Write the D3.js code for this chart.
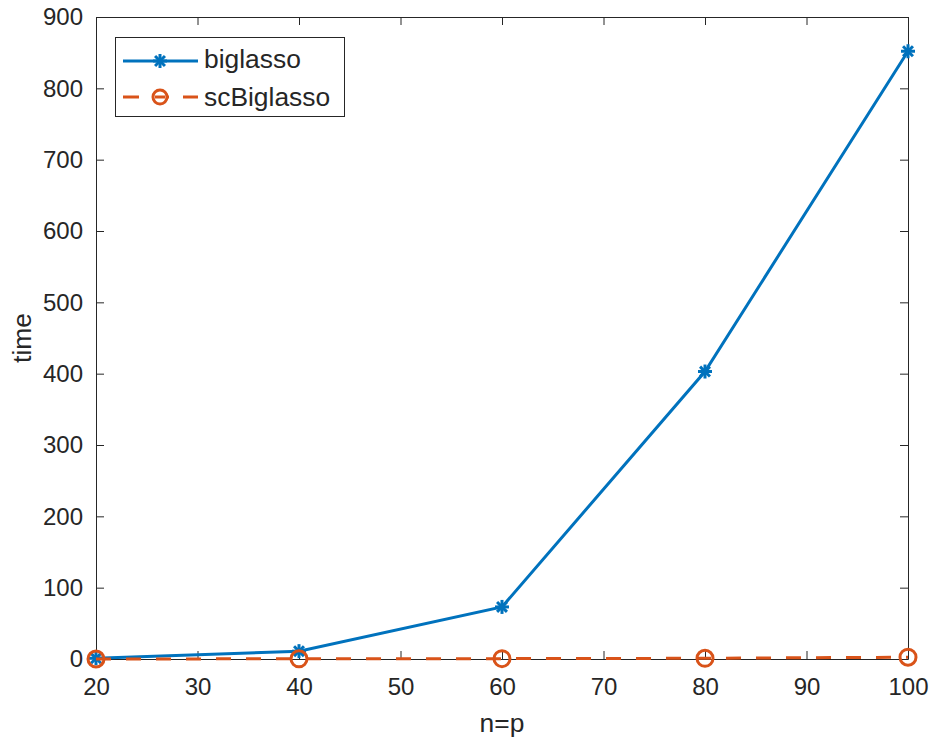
<!DOCTYPE html>
<html>
<head>
<meta charset="utf-8">
<script src="https://cdn.jsdelivr.net/npm/d3@7"></script>
<style>
  body { margin: 0; background: #fff; }
  text { font-family: "Liberation Sans", Arial, sans-serif; fill: #262626; }
</style>
</head>
<body>
<div class="canvas"></div>
<script>
// data
const sizes = [20, 40, 60, 80, 100];
const biglasso = [1, 11, 73, 403, 852];
const scBiglasso = [0, 0.3, 0.5, 1, 2.5];
const xTicks = [20, 30, 40, 50, 60, 70, 80, 90, 100];
const yTicks = [0, 100, 200, 300, 400, 500, 600, 700, 800, 900];

// dimensions
const dims = { width: 931, height: 740 };
const margin = { top: 17, right: 23, bottom: 81, left: 96 };
const w = dims.width - margin.left - margin.right;
const h = dims.height - margin.top - margin.bottom;

const blue = "#0072BD";
const orange = "#D95319";
const axisCol = "#262626";

const svg = d3.select(".canvas").append("svg")
  .attr("width", dims.width)
  .attr("height", dims.height);

const graph = svg.append("g")
  .attr("transform", `translate(${margin.left}, ${margin.top})`);

// scales
const x = d3.scaleLinear().domain([20, 100]).range([0, w]);
const y = d3.scaleLinear().domain([0, 900]).range([h, 0]);

// axes (ticks inward, box on)
const tickLen = 8;
const styleAxis = (g) => {
  g.select(".domain").attr("stroke", axisCol).attr("stroke-width", 1);
  g.selectAll(".tick line").attr("stroke", axisCol).attr("stroke-width", 1);
  g.selectAll(".tick text").attr("font-size", 24).attr("fill", axisCol)
    .attr("font-family", '"Liberation Sans", Arial, sans-serif');
};

graph.append("g")
  .attr("transform", `translate(0, ${h})`)
  .call(d3.axisBottom(x).tickValues(xTicks).tickSizeInner(-tickLen).tickSizeOuter(0).tickPadding(19))
  .call(styleAxis);
graph.append("g")
  .call(d3.axisTop(x).tickValues(xTicks).tickSizeInner(-tickLen).tickSizeOuter(0).tickFormat(""))
  .call(styleAxis);
graph.append("g")
  .call(d3.axisLeft(y).tickValues(yTicks).tickSizeInner(-tickLen).tickSizeOuter(0).tickPadding(13))
  .call(styleAxis);
graph.append("g")
  .attr("transform", `translate(${w}, 0)`)
  .call(d3.axisRight(y).tickValues(yTicks).tickSizeInner(-tickLen).tickSizeOuter(0).tickFormat(""))
  .call(styleAxis);

// axis labels
svg.append("text")
  .attr("x", margin.left + w / 2)
  .attr("y", 732)
  .attr("text-anchor", "middle")
  .attr("font-size", 26.4)
  .text("n=p");
svg.append("text")
  .attr("transform", `translate(31, ${margin.top + h / 2}) rotate(-90)`)
  .attr("text-anchor", "middle")
  .attr("font-size", 26.4)
  .text("time");

// line generator
const line = d3.line().x((d) => x(d[0])).y((d) => y(d[1]));

const bigData = sizes.map((s, i) => [s, biglasso[i]]);
const scData = sizes.map((s, i) => [s, scBiglasso[i]]);

// asterisk marker
const asterisk = (g, cx, cy, r) => {
  const grp = g.append("g").attr("transform", `translate(${cx}, ${cy})`);
  [0, 45, 90, 135].forEach((a) => {
    grp.append("line")
      .attr("x1", -r).attr("x2", r).attr("y1", 0).attr("y2", 0)
      .attr("transform", `rotate(${a})`)
      .attr("stroke", blue).attr("stroke-width", 3);
  });
};

graph.append("path")
  .datum(bigData)
  .attr("d", line)
  .attr("fill", "none")
  .attr("stroke", blue)
  .attr("stroke-width", 3);
bigData.forEach((d) => asterisk(graph, x(d[0]), y(d[1]), 7));

graph.append("path")
  .datum(scData)
  .attr("d", line)
  .attr("fill", "none")
  .attr("stroke", orange)
  .attr("stroke-width", 3)
  .attr("stroke-dasharray", "15 15");
graph.selectAll("circle.sc")
  .data(scData)
  .enter()
  .append("circle")
  .attr("class", "sc")
  .attr("cx", (d) => x(d[0]))
  .attr("cy", (d) => y(d[1]))
  .attr("r", 8)
  .attr("fill", "none")
  .attr("stroke", orange)
  .attr("stroke-width", 3);

// legend
const legend = svg.append("g");
legend.append("rect")
  .attr("x", 115.5).attr("y", 37.5)
  .attr("width", 229).attr("height", 79)
  .attr("fill", "#fff")
  .attr("stroke", axisCol)
  .attr("stroke-width", 1);

legend.append("line")
  .attr("x1", 123).attr("x2", 198).attr("y1", 61).attr("y2", 61)
  .attr("stroke", blue).attr("stroke-width", 3);
asterisk(legend, 160, 61, 7);
legend.append("text").attr("x", 204).attr("y", 68).attr("font-size", 26.4).attr("fill", "#000").text("biglasso");

legend.append("line")
  .attr("x1", 123).attr("x2", 198).attr("y1", 97).attr("y2", 97)
  .attr("stroke", orange).attr("stroke-width", 3)
  .attr("stroke-dasharray", "16 14");
legend.append("circle")
  .attr("cx", 160).attr("cy", 97).attr("r", 7)
  .attr("fill", "#fff")
  .attr("stroke", orange).attr("stroke-width", 3);
legend.append("line")
  .attr("x1", 155).attr("x2", 165).attr("y1", 97).attr("y2", 97)
  .attr("stroke", orange).attr("stroke-width", 3);
legend.append("text").attr("x", 204).attr("y", 106).attr("font-size", 26.4).attr("fill", "#000").text("scBiglasso");
</script>
</body>
</html>
